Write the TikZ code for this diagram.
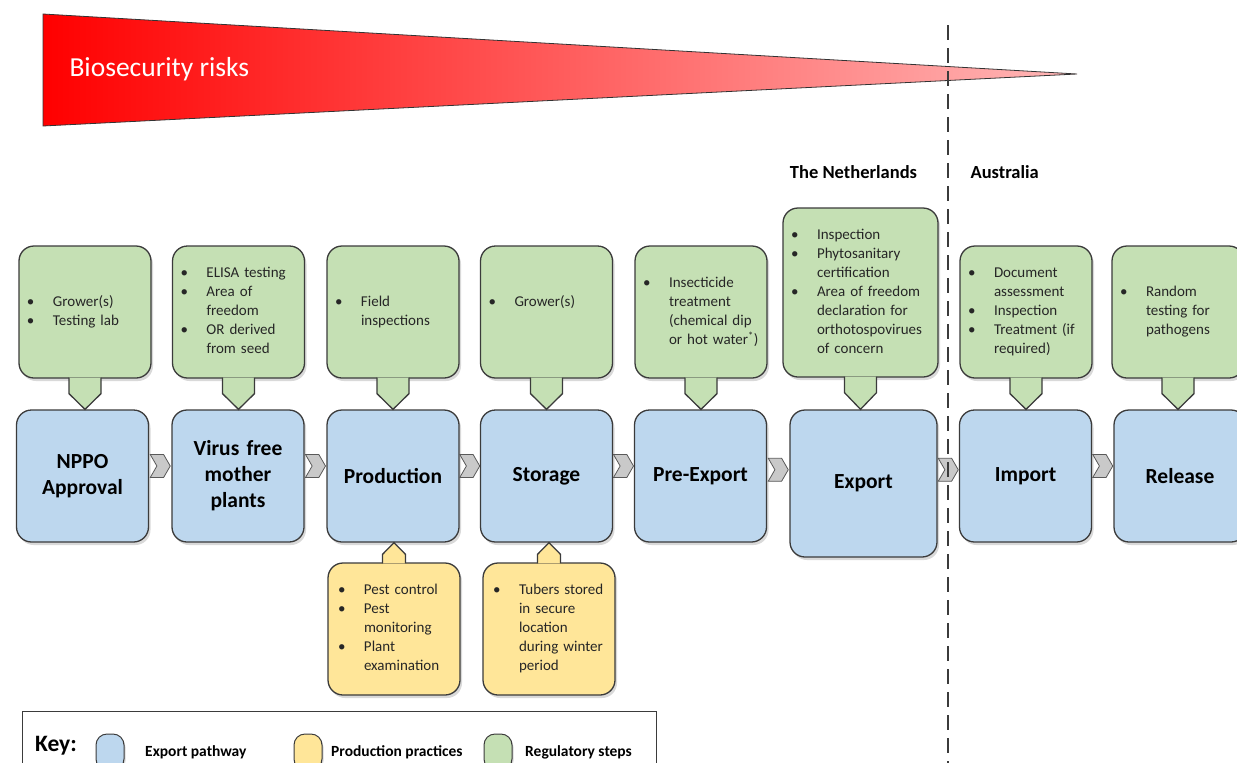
\documentclass[tikz,border=0pt]{standalone}
\usepackage{fontspec}
\setmainfont{Carlito}
\usetikzlibrary{calc,shadows,shapes.symbols}

\definecolor{pathblue}{HTML}{BDD7EE}
\definecolor{reggreen}{HTML}{C5E0B4}
\definecolor{proyellow}{HTML}{FFE699}
\definecolor{boxline}{HTML}{3B3B3B}
\definecolor{chevgray}{HTML}{C9C9C9}
\definecolor{listtext}{HTML}{262626}

\newcommand{\blist}[1]{\begin{tabular}{@{}p{26pt}@{}l@{}}#1\end{tabular}}

\tikzset{
  stepbox/.style={draw=boxline, line width=1.3pt, rounded corners=15pt,
    minimum width=132pt, minimum height=132pt, inner sep=0pt,
    drop shadow={shadow xshift=2pt, shadow yshift=-3pt, opacity=.3}},
  pathbox/.style={stepbox, fill=pathblue, align=center, text width=124pt,
    font=\fontsize{21.5}{26}\selectfont\bfseries},
  regbox/.style={stepbox, fill=reggreen, text width=116pt, inner xsep=8pt,
    text=listtext, font=\fontsize{15}{19}\selectfont},
  probox/.style={regbox, fill=proyellow, inner xsep=10pt, text width=112pt},
  regtab/.style={fill=reggreen, draw=boxline, line width=1.3pt, line join=miter},
  protab/.style={regtab, fill=proyellow},
  chev/.style={signal, signal to=east, signal from=west, signal pointer angle=120,
    fill=chevgray, draw=gray!70!black, line width=.8pt,
    minimum width=20pt, minimum height=23pt, inner sep=0pt},
  keyswatch/.style={draw=boxline, line width=1pt, rounded corners=11pt,
    minimum width=28pt, minimum height=36pt, inner sep=0pt,
    drop shadow={shadow xshift=1.5pt, shadow yshift=-2pt, opacity=.3}},
  keytext/.style={anchor=west, inner xsep=0pt, font=\fontsize{15.5}{18}\selectfont\bfseries},
  country/.style={font=\fontsize{18.5}{22}\selectfont\bfseries},
}

\begin{document}
\begin{tikzpicture}[x=1pt,y=-1pt]
  \useasboundingbox (0,0) rectangle (1237,763);

  % risk wedge
  \shadedraw[left color=red, middle color=red!88, right color=red!28, draw=black!80, line width=.8pt]
    (43,14) -- (1077,74) -- (43,126) -- cycle;
  \node[anchor=west, text=white, font=\fontsize{27.5}{32}\selectfont] (risk) at (66,69) {Biosecurity risks};

  % export pathway
  \node[pathbox] (b1) at (82.5,476) {NPPO\\Approval};
  \node[pathbox] (b2) at (238,476) {Virus free\\mother\\plants};
  \node[pathbox] (b3) at (393,476) {Production};
  \node[pathbox] (b4) at (546.5,476) {Storage};
  \node[pathbox] (b5) at (700.5,476) {Pre-Export};
  \node[pathbox, minimum width=147pt, minimum height=147pt] (b6) at (863.5,483.5) {Export};
  \node[pathbox] (b7) at (1025.5,476) {Import};
  \node[pathbox] (b8) at (1180,476) {Release};

  % regulatory steps
  \node[regbox] (g1) at (85,312) {\blist{\textbullet & Grower(s)\\ \textbullet & Testing lab}};
  \node[regbox] (g2) at (238.5,312) {\blist{\textbullet & ELISA testing\\ \textbullet & Area of\\ & freedom\\
    \textbullet & OR derived\\ & from seed}};
  \node[regbox] (g3) at (393,312) {\blist{\textbullet & Field\\ & inspections}};
  \node[regbox] (g4) at (546.5,312) {\blist{\textbullet & Grower(s)\\[19pt]}};
  \node[regbox] (g5) at (701,312) {\blist{\textbullet & Insecticide\\ & treatment\\ & (chemical dip\\
    & or hot water\textsuperscript{*})}};
  \node[regbox, minimum width=155pt, minimum height=169pt, text width=139pt] (g6) at (860.5,292.5)
    {\blist{\textbullet & Inspection\\ \textbullet & Phytosanitary\\ & certification\\
    \textbullet & Area of freedom\\ & declaration for\\ & orthotospovirues\\ & of concern}};
  \node[regbox] (g7) at (1026,312) {\blist{\textbullet & Document\\ & assessment\\ \textbullet & Inspection\\
    \textbullet & Treatment (if\\ & required)}};
  \node[regbox] (g8) at (1178,312) {\blist{\textbullet & Random\\ & testing for\\ & pathogens}};

  % production practices
  \node[probox] (y1) at (394,629) {\blist{\textbullet & Pest control\\ \textbullet & Pest\\ & monitoring\\
    \textbullet & Plant\\ & examination}};
  \node[probox] (y2) at (549,629) {\blist{\textbullet & Tubers stored\\ & in secure\\ & location\\
    & during winter\\ & period}};

  % pointers
  \foreach \g/\b in {g1/b1,g2/b2,g3/b3,g4/b4,g5/b5,g6/b6,g7/b7,g8/b8}
    \filldraw[regtab] ($(\g.south)+(-16,-1)$) -- ++(0,16) -- (\g.south |- \b.north)
      -- ($(\g.south)+(16,15)$) -- ++(0,-16);
  \foreach \p/\b in {y1/b3,y2/b4}
    \filldraw[protab] ($(\p.north)+(-11.5,1)$) -- ++(0,-9) -- (\p.north |- \b.south)
      -- ($(\p.north)+(11.5,-8)$) -- ++(0,9);

  % chevrons
  \foreach \a/\b [count=\i] in {b1/b2,b2/b3,b3/b4,b4/b5,b5/b6,b6/b7,b7/b8}
    \node[chev] (c\i) at ($(\a.east)!.5!(\b.west)+(0,-10)$) {};

  % border line
  \coordinate (divtop) at (948,25);
  \coordinate (divbot) at (948,770);
  \draw[boxline, line width=1.6pt, dash pattern=on 15pt off 8pt] (divtop) -- (divbot);
  \node[country] (nl) at (853.5,172) {The Netherlands};
  \node[country, anchor=west] (au) at (967,172) {Australia};

  % key
  \draw[boxline, line width=1pt] (22,711) rectangle (656,790);
  \node[anchor=west, inner xsep=0pt, font=\fontsize{23.5}{26}\selectfont\bfseries] (key) at (35,746) {Key:};
  \node[keyswatch, fill=pathblue] (k1) at (110,752) {};
  \node[keytext] (k1t) at (145,752) {Export pathway};
  \node[keyswatch, fill=proyellow] (k2) at (308,752) {};
  \node[keytext] (k2t) at (331,752) {Production practices};
  \node[keyswatch, fill=reggreen] (k3) at (498,752) {};
  \node[keytext] (k3t) at (525,752) {Regulatory steps};
\end{tikzpicture}
\end{document}
